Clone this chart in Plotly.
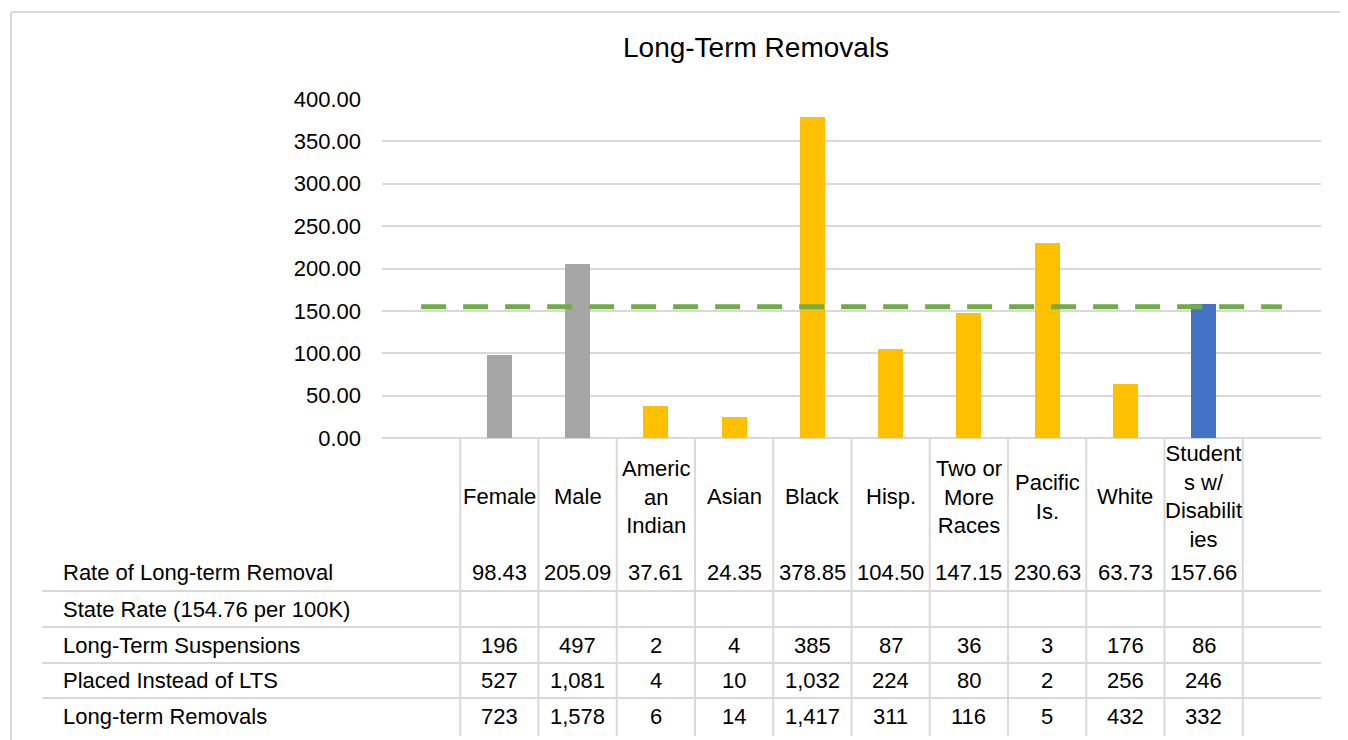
import plotly.graph_objects as go

# ---- data ----
categories = ["Female", "Male", "American Indian", "Asian", "Black", "Hisp.",
              "Two or More Races", "Pacific Is.", "White", "Students w/ Disabilities"]
header_labels = ["Female", "Male", "Americ<br>an<br>Indian", "Asian", "Black", "Hisp.",
                 "Two or<br>More<br>Races", "Pacific<br>Is.", "White",
                 "Student<br>s w/<br>Disabilit<br>ies"]
rate_of_removal = [98.43, 205.09, 37.61, 24.35, 378.85, 104.50, 147.15, 230.63, 63.73, 157.66]
state_rate = 154.76
long_term_suspensions = [196, 497, 2, 4, 385, 87, 36, 3, 176, 86]
placed_instead_of_lts = [527, 1081, 4, 10, 1032, 224, 80, 2, 256, 246]
long_term_removals = [723, 1578, 6, 14, 1417, 311, 116, 5, 432, 332]
row_labels = ["Rate of Long-term Removal", "State Rate (154.76 per 100K)",
              "Long-Term Suspensions", "Placed Instead of LTS", "Long-term Removals"]
y_ticks = [0, 50, 100, 150, 200, 250, 300, 350, 400]

# ---- style ----
bar_colors = ["#A5A5A5", "#A5A5A5"] + ["#FFC000"] * 7 + ["#4472C4"]
FONT = "Liberation Sans, Arial, sans-serif"
FS = 22
GRID = "#D9D9D9"
OFF = 8  # page body margin
W, H = 1340, 732
L, R, T, B = 382, 1321, 99, 438  # plot area in screen pixels


def px_x(px):
    return (px - L) / (R - L)


def px_y(py):
    return (B - py) / (B - T)


n = len(categories)
bar_x = list(range(1, n + 1))
line_x = list(range(0, n + 2))

fig = go.Figure()
fig.add_trace(go.Bar(x=bar_x, y=rate_of_removal, marker_color=bar_colors,
                     marker_line_width=0, width=0.32, name="Rate of Long-term Removal"))
fig.add_trace(go.Scatter(x=line_x, y=[state_rate] * len(line_x), mode="lines",
                         line=dict(color="#70AD47", width=5, dash="25px,17px"),
                         name="State Rate"))

annotations = []
shapes = []

# title
annotations.append(dict(text="Long-Term Removals", x=px_x(756), y=px_y(48), xref="paper",
                        yref="paper", showarrow=False, xanchor="center", yanchor="middle",
                        font=dict(family=FONT, size=28, color="#000000")))

# header labels
for xi, lab in zip(bar_x, header_labels):
    annotations.append(dict(text=lab, x=xi, y=px_y(497), xref="x", yref="paper",
                            showarrow=False, xanchor="center", yanchor="middle",
                            font=dict(family=FONT, size=FS, color="#000000")))

row_y = [572, 609, 645, 680, 716]
row_values = [
    [f"{v:.2f}" for v in rate_of_removal],
    ["" for _ in categories],
    [f"{v:,}" for v in long_term_suspensions],
    [f"{v:,}" for v in placed_instead_of_lts],
    [f"{v:,}" for v in long_term_removals],
]
for ry, lab, vals in zip(row_y, row_labels, row_values):
    annotations.append(dict(text=lab, x=px_x(61), y=px_y(ry), xref="paper", yref="paper",
                            showarrow=False, xanchor="left", yanchor="middle",
                            font=dict(family=FONT, size=FS, color="#000000")))
    for xi, v in zip(bar_x, vals):
        if v:
            annotations.append(dict(text=v, x=xi, y=px_y(ry), xref="x", yref="paper",
                                    showarrow=False, xanchor="center", yanchor="middle",
                                    font=dict(family=FONT, size=FS, color="#000000")))

# table horizontal lines
for ly in [591, 627, 663, 698]:
    shapes.append(dict(type="line", xref="paper", yref="paper", x0=px_x(42), x1=1,
                       y0=px_y(ly), y1=px_y(ly), line=dict(color=GRID, width=2), layer="below"))
# table vertical lines
for k in range(n + 1):
    xb = k + 0.5
    shapes.append(dict(type="line", xref="x", yref="paper", x0=xb, x1=xb,
                       y0=0, y1=px_y(736), line=dict(color=GRID, width=2), layer="below"))
# outer border (left and top edges only visible)
shapes.append(dict(type="line", xref="paper", yref="paper", x0=px_x(11), x1=px_x(11),
                   y0=px_y(740), y1=px_y(12), line=dict(color=GRID, width=2), layer="below"))
shapes.append(dict(type="line", xref="paper", yref="paper", x0=px_x(11), x1=px_x(1348),
                   y0=px_y(12), y1=px_y(12), line=dict(color=GRID, width=2), layer="below"))

fig.update_layout(
    width=W, height=H,
    margin=dict(l=L - OFF, r=W - (R - OFF), t=T - OFF, b=H - (B - OFF), pad=0),
    paper_bgcolor="white", plot_bgcolor="white",
    showlegend=False,
    bargap=0,
    font=dict(family=FONT, size=FS, color="#000000"),
    xaxis=dict(range=[-0.5, n + 1.5], showticklabels=False, showgrid=False,
               zeroline=False, showline=False, ticks="", fixedrange=True),
    yaxis=dict(range=[0, 400], tickvals=y_ticks, tickformat=".2f",
               showgrid=True, gridcolor=GRID, gridwidth=2,
               zeroline=True, zerolinecolor=GRID, zerolinewidth=2,
               showline=False, ticks="", ticklabelstandoff=20,
               tickfont=dict(family=FONT, size=FS, color="#000000"), fixedrange=True),
    annotations=annotations,
    shapes=shapes,
)

fig.write_html("out.html")
